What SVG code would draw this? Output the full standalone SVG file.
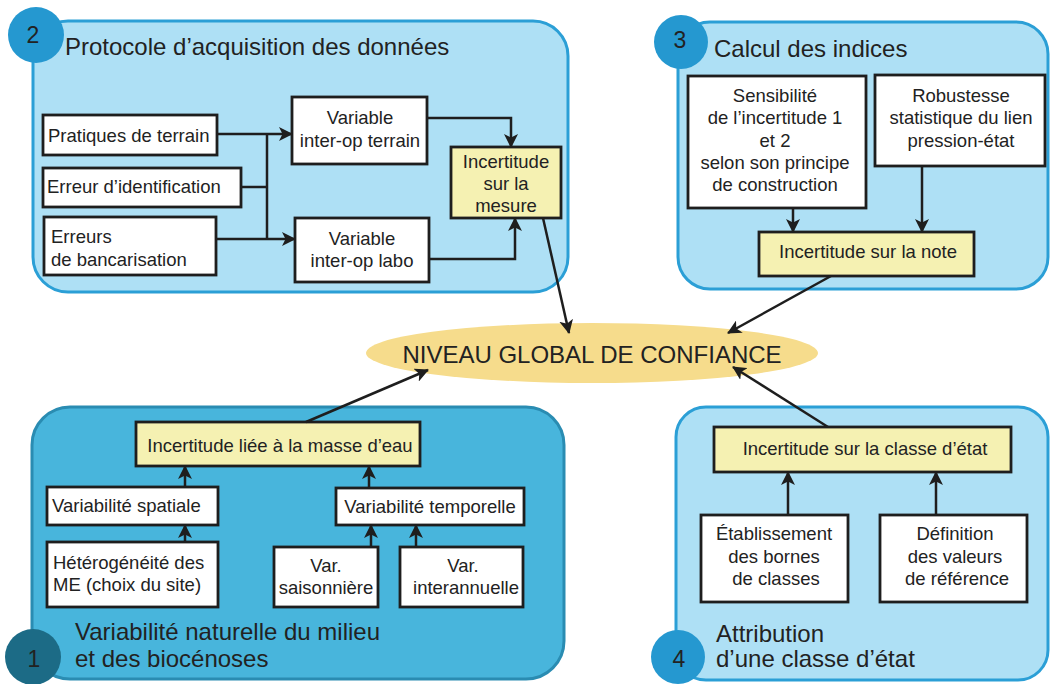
<svg xmlns="http://www.w3.org/2000/svg" width="1051" height="684" viewBox="0 0 1051 684">
<defs>
<marker id="ah" viewBox="0 0 14 14" refX="13" refY="7" markerWidth="14" markerHeight="14" markerUnits="userSpaceOnUse" orient="auto">
<path d="M0,0 L14,7 L0,14 L3.5,7 z" fill="#1e1e1e"/>
</marker>
<style>
.panel-light{fill:#aee0f5;stroke:#2b9fd6;stroke-width:3}
.panel-dark{fill:#48b5dc;stroke:#2a8cb2;stroke-width:3}
.num{fill:#2598d0}
.num-dark{fill:#1c6b86}
.box{fill:#ffffff;stroke:#1e1e1e;stroke-width:2.8}
.ybox{fill:#f5f1b2;stroke:#1e1e1e;stroke-width:2.8}
text{font-family:"Liberation Sans",Arial,sans-serif;fill:#222222}
.t{font-size:18.5px}
.h{font-size:24px}
.n{font-size:23px}
.c{text-anchor:middle}
.conn{fill:none;stroke:#1e1e1e;stroke-width:2.5}
.arr{marker-end:url(#ah)}
</style>
</defs>
<rect width="1051" height="684" fill="#ffffff"/>

<g id="panel2">
<rect class="panel-light" x="33" y="21" width="535" height="271" rx="35"/>
<circle class="num" cx="36" cy="35" r="28"/>
<text class="n c" x="33" y="43">2</text>
<text class="h" x="65" y="55">Protocole d’acquisition des données</text>
</g>
<g id="panel3">
<rect class="panel-light" x="678" y="22" width="370" height="267" rx="32"/>
<circle class="num" cx="681" cy="42" r="27"/>
<text class="n c" x="680" y="48">3</text>
<text class="h" x="714" y="57">Calcul des indices</text>
</g>
<g id="panel1">
<rect class="panel-dark" x="32" y="407" width="532" height="272" rx="38"/>
<circle class="num-dark" cx="33" cy="657" r="28"/>
<text class="n c" x="34" y="667">1</text>
<text class="h" x="75" y="640">Variabilité naturelle du milieu</text>
<text class="h" x="75" y="667">et des biocénoses</text>
</g>
<g id="panel4">
<rect class="panel-light" x="676" y="407" width="372" height="273" rx="30"/>
<circle class="num" cx="678" cy="657" r="27"/>
<text class="n c" x="679" y="667">4</text>
<text class="h" x="716" y="642">Attribution</text>
<text class="h" x="716" y="667">d’une classe d’état</text>
</g>

<g id="niveau-global">
<ellipse cx="592" cy="353" rx="226" ry="30" fill="#f6dc8c"/>
<text class="c" x="592" y="363" style="font-size:24px">NIVEAU GLOBAL DE CONFIANCE</text>
</g>

<g id="pratiques">
<rect class="box" x="43" y="115" width="174" height="40"/>
<text class="t" x="48" y="142">Pratiques de terrain</text>
</g>
<g id="erreur-identification">
<rect class="box" x="43" y="168" width="198" height="39"/>
<text class="t" x="47" y="193">Erreur d’identification</text>
</g>
<g id="erreurs-bancarisation">
<rect class="box" x="44" y="217" width="172" height="58"/>
<text class="t" x="51" y="243">Erreurs</text>
<text class="t" x="51" y="266">de bancarisation</text>
</g>
<g id="variable-terrain">
<rect class="box" x="292" y="97" width="135" height="67"/>
<text class="t c" x="360" y="124">Variable</text>
<text class="t c" x="360" y="147">inter-op terrain</text>
</g>
<g id="variable-labo">
<rect class="box" x="295" y="218" width="134" height="64"/>
<text class="t c" x="362" y="245">Variable</text>
<text class="t c" x="362" y="267">inter-op labo</text>
</g>
<g id="incertitude-mesure">
<rect class="ybox" x="451" y="147" width="110" height="71"/>
<text class="t c" x="506" y="168">Incertitude</text>
<text class="t c" x="506" y="190">sur la</text>
<text class="t c" x="506" y="212">mesure</text>
</g>

<g id="sensibilite">
<rect class="box" x="688" y="76" width="178" height="132"/>
<text class="t c" x="775" y="102">Sensibilité</text>
<text class="t c" x="775" y="124">de l’incertitude 1</text>
<text class="t c" x="775" y="147">et 2</text>
<text class="t c" x="775" y="169">selon son principe</text>
<text class="t c" x="775" y="191">de construction</text>
</g>
<g id="robustesse">
<rect class="box" x="875" y="75" width="170" height="91"/>
<text class="t c" x="961" y="102">Robustesse</text>
<text class="t c" x="961" y="124">statistique du lien</text>
<text class="t c" x="961" y="147">pression-état</text>
</g>
<g id="incertitude-note">
<rect class="ybox" x="759" y="232" width="215" height="44"/>
<text class="t c" x="868" y="258">Incertitude sur la note</text>
</g>

<g id="incertitude-masse-eau">
<rect class="ybox" x="136" y="422" width="284" height="44"/>
<text class="t c" x="280" y="452">Incertitude liée à la masse d’eau</text>
</g>
<g id="variabilite-spatiale">
<rect class="box" x="47" y="487" width="171" height="38"/>
<text class="t" x="52" y="512">Variabilité spatiale</text>
</g>
<g id="heterogeneite">
<rect class="box" x="47" y="542" width="171" height="65"/>
<text class="t" x="53" y="569">Hétérogénéité des</text>
<text class="t" x="53" y="591">ME (choix du site)</text>
</g>
<g id="variabilite-temporelle">
<rect class="box" x="336" y="488" width="188" height="37"/>
<text class="t c" x="430" y="513">Variabilité temporelle</text>
</g>
<g id="var-saisonniere">
<rect class="box" x="274" y="547" width="104" height="60"/>
<text class="t c" x="326" y="572">Var.</text>
<text class="t c" x="326" y="594">saisonnière</text>
</g>
<g id="var-interannuelle">
<rect class="box" x="400" y="547" width="123" height="60"/>
<text class="t c" x="463" y="572">Var.</text>
<text class="t c" x="466" y="594">interannuelle</text>
</g>

<g id="incertitude-classe">
<rect class="ybox" x="714" y="427" width="297" height="45"/>
<text class="t c" x="865" y="455">Incertitude sur la classe d’état</text>
</g>
<g id="etablissement">
<rect class="box" x="701" y="515" width="147" height="87"/>
<text class="t c" x="774" y="540">Établissement</text>
<text class="t c" x="774" y="563">des bornes</text>
<text class="t c" x="776" y="585">de classes</text>
</g>
<g id="definition">
<rect class="box" x="880" y="515" width="147" height="87"/>
<text class="t c" x="955" y="540">Définition</text>
<text class="t c" x="955" y="563">des valeurs</text>
<text class="t c" x="957" y="585">de référence</text>
</g>

<g id="connectors">
<path class="conn arr" d="M217,134 H292"/>
<path class="conn" d="M267,134 V239"/>
<path class="conn" d="M241,187 H267"/>
<path class="conn arr" d="M216,239 H295"/>
<path class="conn arr" d="M427,118 H511 V147"/>
<path class="conn arr" d="M429,259 H515 V218"/>
<path class="conn arr" d="M543,218 L569,333"/>
<path class="conn arr" d="M793,208 V232"/>
<path class="conn arr" d="M922,166 V232"/>
<path class="conn arr" d="M831,276 L728,333"/>
<path class="conn arr" d="M306,422 L428,370"/>
<path class="conn arr" d="M185,542 V525"/>
<path class="conn arr" d="M185,487 V466"/>
<path class="conn arr" d="M369,488 V466"/>
<path class="conn arr" d="M371,547 V525"/>
<path class="conn arr" d="M416,547 V525"/>
<path class="conn arr" d="M828,427 L733,367"/>
<path class="conn arr" d="M788,515 V472"/>
<path class="conn arr" d="M936,515 V472"/>
</g>
</svg>
